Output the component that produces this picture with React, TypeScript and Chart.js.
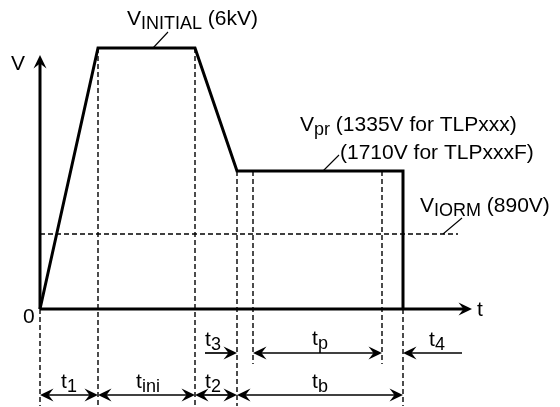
import React, { useEffect, useRef } from "react";
import { Chart, registerables } from "chart.js";

Chart.register(...registerables);

// ---- data (schematic units: time from t = 0, level above 0 V) ----
const waveTime = [0, 58, 155, 197, 363, 363];
const waveLevel = [0, 261, 261, 138, 138, 0]; // 0 -> V_INITIAL -> V_pr -> 0
const vIormLevel = 75;
const markTimes = [0, 58, 155, 197, 213, 342, 363]; // t=0, t1|tini, tini|t2, t2|tb, tp start, tp end, tb end
const rowAIntervals = [
  [0, 58],
  [58, 155],
  [155, 197],
  [197, 363],
];
const rowALabels = ["1", "ini", "2", "b"];
const rowBLabels = ["3", "p", "4"];

// ---- layout (schematic units) ----
const X_MIN = -40;
const X_MAX = 520;
const Y_MIN = -98;
const Y_MAX = 309;
const Y_AXIS_TOP = 254;
const X_AXIS_END = 432;
const ROW_A = -86;
const ROW_B = -44;
const GUIDE_BOTTOM = -97;
const GUIDE_SHORT = -55;
const IORM_END = 418;

const FONT = '"Liberation Sans", Arial, Helvetica, sans-serif';
const MAIN = 21;
const SUB = 18;
const SUB_DY = 4;

type Seg = { t: string; sub?: boolean };

function segWidth(ctx: CanvasRenderingContext2D, segs: Seg[]) {
  let w = 0;
  for (const s of segs) {
    ctx.font = `${s.sub ? SUB : MAIN}px ${FONT}`;
    w += ctx.measureText(s.t).width;
  }
  return w;
}

function drawRich(
  ctx: CanvasRenderingContext2D,
  x: number,
  y: number,
  segs: Seg[],
  align: "left" | "center" = "left"
) {
  let cx = align === "center" ? x - segWidth(ctx, segs) / 2 : x;
  ctx.textAlign = "left";
  ctx.textBaseline = "alphabetic";
  ctx.fillStyle = "#000";
  for (const s of segs) {
    ctx.font = `${s.sub ? SUB : MAIN}px ${FONT}`;
    ctx.fillText(s.t, cx, y + (s.sub ? SUB_DY : 0));
    cx += ctx.measureText(s.t).width;
  }
}

function head(ctx: CanvasRenderingContext2D, tx: number, ty: number, dx: number, dy: number) {
  const L = 13.5;
  const W = 6.5;
  const N = 5;
  const nx = -dy;
  const ny = dx;
  ctx.beginPath();
  ctx.moveTo(tx, ty);
  ctx.lineTo(tx - dx * L + nx * W, ty - dy * L + ny * W);
  ctx.lineTo(tx - dx * (L - N), ty - dy * (L - N));
  ctx.lineTo(tx - dx * L - nx * W, ty - dy * L - ny * W);
  ctx.closePath();
  ctx.fillStyle = "#000";
  ctx.fill();
}

function line(ctx: CanvasRenderingContext2D, x1: number, y1: number, x2: number, y2: number, w: number) {
  ctx.beginPath();
  ctx.moveTo(x1, y1);
  ctx.lineTo(x2, y2);
  ctx.lineWidth = w;
  ctx.strokeStyle = "#000";
  ctx.setLineDash([]);
  ctx.stroke();
}

const diagramPlugin = {
  id: "diagram",
  afterDatasetsDraw(chart: any) {
    const ctx: CanvasRenderingContext2D = chart.ctx;
    const xs = chart.scales.x;
    const ys = chart.scales.y;
    const X = (v: number) => xs.getPixelForValue(v);
    const Y = (v: number) => ys.getPixelForValue(v);
    ctx.save();
    ctx.lineCap = "butt";

    // axes
    line(ctx, X(0), Y(0), X(0), Y(Y_AXIS_TOP) + 8, 3);
    head(ctx, X(0), Y(Y_AXIS_TOP), 0, -1);
    line(ctx, X(0), Y(0), X(X_AXIS_END) - 8, Y(0), 3);
    head(ctx, X(X_AXIS_END), Y(0), 1, 0);

    // row A double arrows
    rowAIntervals.forEach(([a, b], i) => {
      const y = Y(ROW_A);
      line(ctx, X(a) + 6, y, X(b) - 6, y, 1.7);
      head(ctx, X(a), y, -1, 0);
      head(ctx, X(b), y, 1, 0);
      drawRich(ctx, X([29, 108, 173, 280][i]), Y(-79), [{ t: "t" }, { t: rowALabels[i], sub: true }], "center");
    });

    // row B
    const yb = Y(ROW_B);
    line(ctx, X(165), yb, X(markTimes[3]) - 6, yb, 1.7);
    head(ctx, X(markTimes[3]), yb, 1, 0);
    line(ctx, X(markTimes[4]) + 6, yb, X(markTimes[5]) - 6, yb, 1.7);
    head(ctx, X(markTimes[4]), yb, -1, 0);
    head(ctx, X(markTimes[5]), yb, 1, 0);
    line(ctx, X(422), yb, X(markTimes[6]) + 6, yb, 1.7);
    head(ctx, X(markTimes[6]), yb, -1, 0);
    drawRich(ctx, X(173), Y(-37), [{ t: "t" }, { t: rowBLabels[0], sub: true }], "center");
    drawRich(ctx, X(280), Y(-36), [{ t: "t" }, { t: rowBLabels[1], sub: true }], "center");
    drawRich(ctx, X(397), Y(-37), [{ t: "t" }, { t: rowBLabels[2], sub: true }], "center");

    // leader lines
    line(ctx, X(113), Y(261), X(128), Y(277), 1.1);
    line(ctx, X(283), Y(138), X(299), Y(154), 1.1);
    line(ctx, X(403), Y(75), X(422), Y(91), 1.1);

    // texts
    drawRich(ctx, X(-29), Y(239), [{ t: "V" }]);
    drawRich(ctx, X(-17), Y(-14), [{ t: "0" }]);
    drawRich(ctx, X(437), Y(-7), [{ t: "t" }]);
    drawRich(ctx, X(87), Y(284), [{ t: "V" }, { t: "INITIAL", sub: true }, { t: " (6kV)" }]);
    drawRich(ctx, X(260), Y(178), [{ t: "V" }, { t: "pr", sub: true }, { t: " (1335V for TLPxxx)" }]);
    drawRich(ctx, X(300), Y(150), [{ t: "(1710V for TLPxxxF)" }]);
    drawRich(ctx, X(380), Y(97), [{ t: "V" }, { t: "IORM", sub: true }, { t: " (890V)" }]);

    ctx.restore();
  },
};

function guide(x1: number, y1: number, x2: number, y2: number) {
  return {
    data: [
      { x: x1, y: y1 },
      { x: x2, y: y2 },
    ],
    showLine: true,
    borderColor: "#000",
    borderWidth: 1.4,
    borderDash: [5, 3],
    pointRadius: 0,
    fill: false,
  };
}

export default function App() {
  const ref = useRef<HTMLCanvasElement | null>(null);
  useEffect(() => {
    if (!ref.current) return;
    const vIni = waveLevel[1];
    const vPr = waveLevel[3];
    const datasets: any[] = [
      {
        data: waveTime.map((t, i) => ({ x: t, y: waveLevel[i] })),
        showLine: true,
        borderColor: "#000",
        borderWidth: 3,
        borderJoinStyle: "miter",
        pointRadius: 0,
        fill: false,
        tension: 0,
      },
      guide(markTimes[0], 0, markTimes[0], GUIDE_BOTTOM),
      guide(markTimes[1], vIni, markTimes[1], GUIDE_BOTTOM),
      guide(markTimes[2], vIni, markTimes[2], GUIDE_BOTTOM),
      guide(markTimes[3], vPr, markTimes[3], GUIDE_BOTTOM),
      guide(markTimes[4], vPr, markTimes[4], GUIDE_SHORT),
      guide(markTimes[5], vPr, markTimes[5], GUIDE_SHORT),
      guide(markTimes[6], 0, markTimes[6], GUIDE_BOTTOM),
      guide(0, vIormLevel, IORM_END, vIormLevel),
    ];
    const chart = new Chart(ref.current, {
      type: "scatter",
      data: { datasets },
      options: {
        responsive: false,
        maintainAspectRatio: false,
        animation: false,
        layout: { padding: 0 },
        plugins: { legend: { display: false }, tooltip: { enabled: false } },
        events: [],
        scales: {
          x: { type: "linear", display: false, min: X_MIN, max: X_MAX },
          y: { type: "linear", display: false, min: Y_MIN, max: Y_MAX },
        },
      },
      plugins: [diagramPlugin],
    } as any);
    return () => chart.destroy();
  }, []);
  return (
    <div style={{ position: "fixed", left: 0, top: 0, width: 560, height: 407, background: "#fff" }}>
      <canvas ref={ref} width={560} height={407} style={{ display: "block" }} />
    </div>
  );
}
